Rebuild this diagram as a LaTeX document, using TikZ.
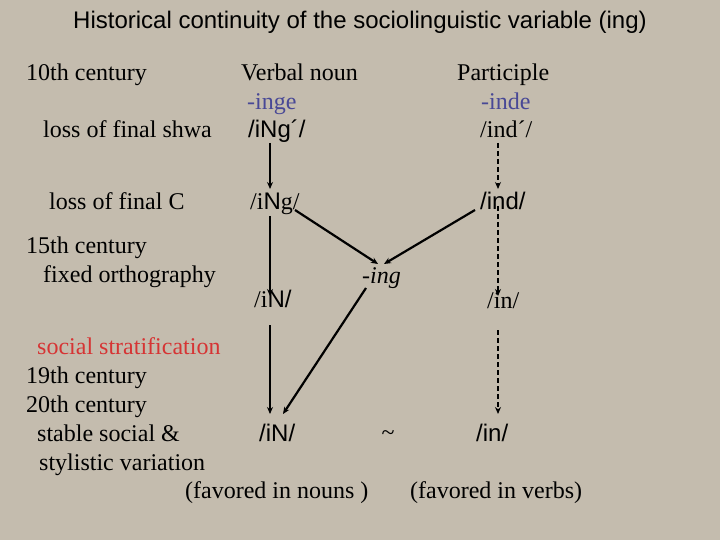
\documentclass[tikz,border=0pt]{standalone}
\usepackage{fontspec}
\setmainfont{Liberation Serif}
\newfontfamily\arialf{Liberation Sans}
\usetikzlibrary{arrows.meta}
\definecolor{bgc}{RGB}{196,188,174}
\definecolor{bluet}{RGB}{72,72,150}
\definecolor{redt}{RGB}{214,52,52}
\tikzset{
  txt/.style={anchor=base west, inner sep=0pt, font=\fontsize{24}{28}\selectfont},
  sanst/.style={txt, font=\arialf\fontsize{24}{28}\selectfont},
  arr/.style={line width=2.2pt, -{Stealth[length=7pt,width=6pt]}},
  darr/.style={arr, dash pattern=on 5pt off 3pt},
}
\begin{document}
\begin{tikzpicture}[x=1pt,y=-1pt]
\fill[bgc] (0,0) rectangle (720,540);
\useasboundingbox (0,0) rectangle (720,540);
\node[sanst, anchor=base] (title) at (360,29) {Historical continuity of the sociolinguistic variable (ing)};
\node[txt] (c10) at (26,81) {10th century};
\node[txt] (vn) at (241,81) {Verbal noun};
\node[txt] (part) at (457,81) {Participle};
\node[txt, text=bluet] (inge) at (247,110) {-inge};
\node[txt, text=bluet] (inde) at (481,110) {-inde};
\node[txt] (shwa) at (43,138) {loss of final shwa};
\node[sanst] (ingp) at (248,138) {/iNg´/};
\node[txt] (indp) at (480,138) {/ind´/};
\node[txt] (lossc) at (49,210) {loss of final C};
\node[txt] (ing) at (250,210) {/i{\arialf N}g/};
\node[sanst] (ind) at (480,210) {/ind/};
\node[txt] (c15) at (26,254) {15th century};
\node[txt] (orth) at (43,282) {fixed orthography};
\node[txt] (ingm) at (362,283) {-\textit{ing}};
\node[txt] (iN1) at (254,307) {/i{\arialf N/}};
\node[txt] (in1) at (487,308) {/in/};
\node[txt, text=redt] (soc) at (37,354) {social stratification};
\node[txt] (c19) at (26,383) {19th century};
\node[txt] (c20) at (26,412) {20th century};
\node[txt] (stab) at (37,441) {stable social \&};
\node[txt] (styl) at (39,470) {stylistic variation};
\node[sanst] (iN2) at (259,441) {/iN/};
\node[txt, anchor=center] (tilde) at (388,436) {\textasciitilde};
\node[sanst] (in2) at (476,441) {/in/};
\node[txt] (fn) at (185,498) {(favored in nouns )};
\node[txt] (fv) at (410,498) {(favored in verbs)};
% connector end points
\coordinate (a1s) at (270,143); \coordinate (a1e) at (270,189);
\coordinate (a2s) at (498,143); \coordinate (a2e) at (498,189);
\coordinate (a3s) at (270,216); \coordinate (a3e) at (270,296);
\coordinate (a4s) at (295,210); \coordinate (a4e) at (378,264);
\coordinate (a5s) at (475,210); \coordinate (a5e) at (384,264);
\coordinate (a6s) at (498,206); \coordinate (a6e) at (498,296);
\coordinate (a7s) at (366,288); \coordinate (a7e) at (283,414);
\coordinate (a8s) at (270,325); \coordinate (a8e) at (270,414);
\coordinate (a9s) at (498,330); \coordinate (a9e) at (498,414);
\draw[arr] (a1s) -- (a1e);
\draw[darr] (a2s) -- (a2e);
\draw[arr] (a3s) -- (a3e);
\draw[arr] (a4s) -- (a4e);
\draw[arr] (a5s) -- (a5e);
\draw[darr] (a6s) -- (a6e);
\draw[arr] (a7s) -- (a7e);
\draw[arr] (a8s) -- (a8e);
\draw[darr] (a9s) -- (a9e);
\end{tikzpicture}
\end{document}
